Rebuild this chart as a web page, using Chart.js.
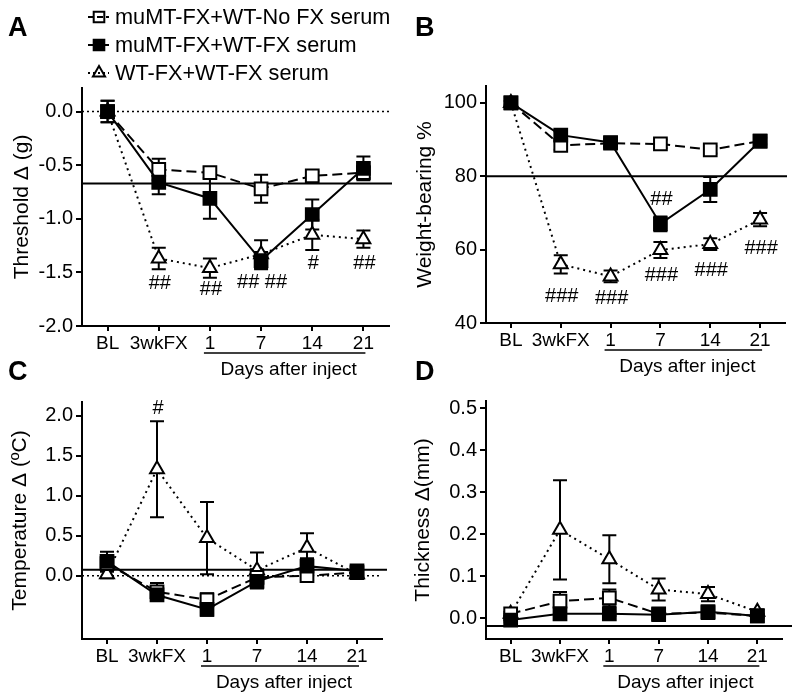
<!DOCTYPE html>
<html>
<head>
<meta charset="utf-8">
<script src="https://cdn.jsdelivr.net/npm/chart.js@4.4.1/dist/chart.umd.min.js"></script>
<style>
html, body { margin: 0; padding: 0; background: #fff; }
body { width: 800px; height: 699px; position: relative; overflow: hidden; }
canvas { position: absolute; }
</style>
</head>
<body>
<canvas id="cA" width="400" height="385" style="left:0;top:0;width:400px;height:385px"></canvas>
<canvas id="cB" width="400" height="385" style="left:400px;top:0;width:400px;height:385px"></canvas>
<canvas id="cC" width="400" height="349" style="left:0;top:350px;width:400px;height:349px"></canvas>
<canvas id="cD" width="400" height="349" style="left:400px;top:350px;width:400px;height:349px"></canvas>
<script>
// ---------------- DATA ----------------
const categories = ['BL', '3wkFX', '1', '7', '14', '21'];
const seriesLabels = ['muMT-FX+WT-No FX serum', 'muMT-FX+WT-FX serum', 'WT-FX+WT-FX serum'];
const daysLabel = 'Days after inject';

// Panel A: Threshold Δ (g)
const thresholdNoFx    = [0.00, -0.54, -0.57, -0.72, -0.60, -0.57];
const thresholdNoFxErr = [0.10,  0.10,  0.05,  0.13,  0.04,  0.05];
const thresholdFx      = [0.00, -0.66, -0.81, -1.39, -0.96, -0.53];
const thresholdFxErr   = [0.10,  0.11,  0.19,  0.08,  0.14,  0.11];
const thresholdWt      = [0.00, -1.37, -1.46, -1.33, -1.15, -1.19];
const thresholdWtErr   = [0.05,  0.10,  0.09,  0.13,  0.14,  0.08];
const thresholdTicks   = [0.0, -0.5, -1.0, -1.5, -2.0];
const thresholdRefLine = -0.67;
const thresholdSigText = ['##', '##', '## ##', '#', '##'];
const thresholdSigCat  = [1, 2, 3, 4, 5];
const thresholdSigAt   = [-1.60, -1.66, -1.59, -1.42, -1.42];

// Panel B: Weight-bearing %
const weightNoFx    = [100, 88.4, 89.0, 88.8, 87.2, 89.6];
const weightNoFxErr = [0.5, 1.2, 1.0, 1.2, 1.0, 0.8];
const weightFx      = [100, 91.2, 89.2, 67.0, 76.4, 89.6];
const weightFxErr   = [0.5, 1.0, 1.0, 2.0, 3.4, 1.0];
const weightWt      = [100, 56.0, 52.7, 59.9, 61.5, 68.2];
const weightWtErr   = [0.5, 2.5, 1.6, 2.2, 1.6, 1.8];
const weightTicks   = [40, 60, 80, 100];
const weightRefLine = 80;
const weightSigText = ['##', '###', '###', '###', '###', '###'];
const weightSigCat  = [3, 1, 2, 3, 4, 5];
const weightSigAt   = [73.8, 47.3, 46.8, 53.0, 54.3, 60.3];

// Panel C: Temperature Δ (ºC)
const tempNoFx    = [0.15, -0.20, -0.30, -0.02, 0.00, 0.04];
const tempNoFxErr = [0.10,  0.11,  0.08,  0.10, 0.06, 0.04];
const tempFx      = [0.18, -0.24, -0.42, -0.07, 0.12, 0.06];
const tempFxErr   = [0.12,  0.05,  0.08,  0.09, 0.10, 0.04];
const tempWt      = [0.02,  1.33,  0.47,  0.07, 0.35, 0.02];
const tempWtErr   = [0.05,  0.60,  0.45,  0.22, 0.18, 0.04];
const tempTicks   = [0.0, 0.5, 1.0, 1.5, 2.0];
const tempRefLine = 0.075;
const tempSigText = ['#'];
const tempSigCat  = [1];
const tempSigAt   = [2.09];

// Panel D: Thickness Δ(mm)
const thickNoFx    = [0.010, 0.040, 0.048, 0.010, 0.013, 0.005];
const thickNoFxErr = [0.005, 0.022, 0.020, 0.005, 0.005, 0.004];
const thickFx      = [-0.005, 0.010, 0.010, 0.008, 0.015, 0.005];
const thickFxErr   = [0.005, 0.005, 0.005, 0.005, 0.005, 0.005];
const thickWt      = [0.010, 0.210, 0.140, 0.068, 0.057, 0.015];
const thickWtErr   = [0.005, 0.118, 0.057, 0.026, 0.017, 0.005];
const thickTicks   = [0.0, 0.1, 0.2, 0.3, 0.4, 0.5];
const thickRefLine = -0.019;

// ---------------- RENDERING ----------------
const FONT = "'Liberation Sans', Arial, Helvetica, sans-serif";
const BLACK = '#000';

const seriesStyles = [
  { borderDash: [10, 5], pointStyle: 'rect', pointRadius: 9, fill: '#fff', order: 1 },
  { borderDash: [], pointStyle: 'rect', pointRadius: 9, fill: '#000', order: 0 },
  { borderDash: [2, 4], pointStyle: 'triangle', pointRadius: 8, fill: '#fff', order: 2 }
];

function makeDatasets(values, errors) {
  return values.map((vals, k) => ({
    label: seriesLabels[k],
    data: vals,
    errorBars: errors[k],
    borderColor: BLACK,
    borderWidth: 2,
    borderDash: seriesStyles[k].borderDash,
    tension: 0,
    fill: false,
    pointStyle: seriesStyles[k].pointStyle,
    pointRadius: seriesStyles[k].pointRadius,
    pointHoverRadius: seriesStyles[k].pointRadius,
    pointBackgroundColor: seriesStyles[k].fill,
    pointBorderColor: BLACK,
    pointBorderWidth: 2,
    order: seriesStyles[k].order
  }));
}

const panelPlugin = {
  id: 'panel',
  beforeDatasetsDraw(chart, args, opts) {
    const { ctx, chartArea } = chart;
    const x = chart.scales.x, y = chart.scales.y;
    ctx.save();
    ctx.strokeStyle = BLACK;
    (opts.refLines || []).forEach(r => {
      const py = y.getPixelForValue(r.value);
      ctx.beginPath();
      ctx.setLineDash(r.dash || []);
      ctx.lineWidth = r.width;
      ctx.moveTo(chartArea.left, py);
      ctx.lineTo(chartArea.right + (r.extend || 0), py);
      ctx.stroke();
    });
    ctx.setLineDash([]);
    ctx.lineWidth = 2;
    chart.data.datasets.forEach(ds => {
      (ds.errorBars || []).forEach((e, i) => {
        const v = ds.data[i];
        const px = x.getPixelForValue(i);
        const pt = y.getPixelForValue(v + e), pb = y.getPixelForValue(v - e);
        ctx.beginPath();
        ctx.moveTo(px, pt); ctx.lineTo(px, pb);
        ctx.moveTo(px - 7, pt); ctx.lineTo(px + 7, pt);
        ctx.moveTo(px - 7, pb); ctx.lineTo(px + 7, pb);
        ctx.stroke();
      });
    });
    ctx.restore();
  },
  afterDraw(chart, args, opts) {
    const { ctx, chartArea } = chart;
    const x = chart.scales.x, y = chart.scales.y;
    ctx.save();
    ctx.fillStyle = BLACK;
    ctx.strokeStyle = BLACK;
    // significance marks
    ctx.font = '20px ' + FONT;
    ctx.textAlign = 'center';
    ctx.textBaseline = 'middle';
    (opts.sig || { text: [] }).text.forEach((t, k) => {
      ctx.fillText(t, x.getPixelForValue(opts.sig.cat[k]) + 1, y.getPixelForValue(opts.sig.at[k]));
    });
    // days after inject underline + text
    const x1 = x.getPixelForValue(2) - 6, x2 = x.getPixelForValue(5) + 2;
    ctx.lineWidth = 1.5;
    ctx.beginPath();
    ctx.moveTo(x1, chartArea.bottom + 27);
    ctx.lineTo(x2, chartArea.bottom + 27);
    ctx.stroke();
    ctx.font = '19px ' + FONT;
    ctx.fillText(daysLabel, (x1 + x2) / 2 + 4, chartArea.bottom + 44);
    // panel letter
    ctx.font = 'bold 27px ' + FONT;
    ctx.textAlign = 'left';
    ctx.fillText(opts.letter.text, opts.letter.x, opts.letter.y);
    // legend
    if (opts.legend) {
      const rows = [17, 45, 73];
      ctx.font = '21.7px ' + FONT;
      chart.data.datasets.forEach((ds, k) => {
        const ry = rows[k];
        ctx.fillStyle = ds.pointBackgroundColor;
        ctx.strokeStyle = BLACK;
        ctx.lineWidth = 2;
        ctx.setLineDash([]);
        Chart.helpers.drawPoint(ctx, { pointStyle: ds.pointStyle, radius: ds.pointStyle === 'rect' ? 7.5 : 7, borderWidth: 2, rotation: 0 }, 99, ry);
        ctx.setLineDash(ds.borderDash && ds.borderDash.length ? (ds.pointStyle === 'rect' ? [6, 3] : [2, 3]) : []);
        ctx.beginPath();
        ctx.moveTo(88, ry); ctx.lineTo(109, ry);
        ctx.stroke();
        ctx.setLineDash([]);
        ctx.fillStyle = BLACK;
        ctx.fillText(ds.label, 115, ry + 1);
      });
    }
    ctx.restore();
  }
};

function makeChart(id, cfg) {
  return new Chart(document.getElementById(id), {
    type: 'line',
    data: { labels: categories, datasets: makeDatasets(cfg.values, cfg.errors) },
    plugins: [panelPlugin],
    options: {
      responsive: false,
      animation: false,
      devicePixelRatio: 1,
      layout: { padding: cfg.padding },
      plugins: {
        legend: { display: false },
        tooltip: { enabled: false },
        panel: { refLines: cfg.refLines, sig: cfg.sig, letter: cfg.letter, legend: cfg.legend }
      },
      scales: {
        x: {
          type: 'category',
          offset: true,
          border: { display: true, color: BLACK, width: 2 },
          grid: { display: true, drawOnChartArea: false, drawTicks: true, tickLength: 5, color: BLACK, lineWidth: 2, offset: false },
          ticks: { color: BLACK, font: { family: FONT, size: 19 }, padding: 1, maxRotation: 0, autoSkip: false },
          afterFit: s => { s.height = 30; }
        },
        y: {
          min: cfg.min,
          max: cfg.max,
          border: { display: true, color: BLACK, width: 2 },
          grid: { display: true, drawOnChartArea: false, drawTicks: true, tickLength: 6, color: BLACK, lineWidth: 2 },
          ticks: { color: BLACK, font: { family: FONT, size: 20 }, padding: 3, callback: cfg.fmt },
          afterBuildTicks: ax => { ax.ticks = cfg.ticks.map(v => ({ value: v })); },
          title: { display: true, text: cfg.title, color: BLACK, font: { family: FONT, size: 21 }, padding: { top: cfg.titlePad, bottom: 0 } },
          afterFit: s => { s.width = cfg.yWidth; }
        }
      }
    }
  });
}

const fmt1 = v => Number(v).toFixed(1);
const fmt0 = v => String(Math.round(v));

makeChart('cA', {
  values: [thresholdNoFx, thresholdFx, thresholdWt],
  errors: [thresholdNoFxErr, thresholdFxErr, thresholdWtErr],
  padding: { top: 88, right: 10, bottom: 29, left: 0 },
  yWidth: 82, min: -2.0, max: 0.22, ticks: thresholdTicks, fmt: fmt1,
  title: 'Threshold \u0394 (g)', titlePad: 10,
  refLines: [{ value: 0, width: 1.5, dash: [2, 3], extend: 3 }, { value: thresholdRefLine, width: 2, extend: 3 }],
  sig: { text: thresholdSigText, cat: thresholdSigCat, at: thresholdSigAt },
  letter: { text: 'A', x: 8, y: 29 },
  legend: true
});

makeChart('cB', {
  values: [weightNoFx, weightFx, weightWt],
  errors: [weightNoFxErr, weightFxErr, weightWtErr],
  padding: { top: 86, right: 15, bottom: 32, left: 0 },
  yWidth: 86, min: 40, max: 104.6, ticks: weightTicks, fmt: fmt0,
  title: 'Weight-bearing %', titlePad: 13,
  refLines: [{ value: weightRefLine, width: 2, extend: 2 }],
  sig: { text: weightSigText, cat: weightSigCat, at: weightSigAt },
  letter: { text: 'B', x: 15, y: 29 },
  legend: false
});

makeChart('cC', {
  values: [tempNoFx, tempFx, tempWt],
  errors: [tempNoFxErr, tempFxErr, tempWtErr],
  padding: { top: 52, right: 18, bottom: 30, left: 0 },
  yWidth: 82, min: -0.79, max: 2.17, ticks: tempTicks, fmt: fmt1,
  title: 'Temperature \u0394 (\u00BAC)', titlePad: 8,
  refLines: [{ value: 0, width: 1.5, dash: [2, 3], extend: 0 }, { value: tempRefLine, width: 2, extend: 5 }],
  sig: { text: tempSigText, cat: tempSigCat, at: tempSigAt },
  letter: { text: 'C', x: 8, y: 23 },
  legend: false
});

makeChart('cD', {
  values: [thickNoFx, thickFx, thickWt],
  errors: [thickNoFxErr, thickFxErr, thickWtErr],
  padding: { top: 51, right: 18, bottom: 30, left: 0 },
  yWidth: 86, min: -0.05, max: 0.517, ticks: thickTicks, fmt: fmt1,
  title: 'Thickness \u0394(mm)', titlePad: 11,
  refLines: [{ value: thickRefLine, width: 2, extend: 10 }],
  sig: { text: [], cat: [], at: [] },
  letter: { text: 'D', x: 15, y: 23 },
  legend: false
});
</script>
</body>
</html>
